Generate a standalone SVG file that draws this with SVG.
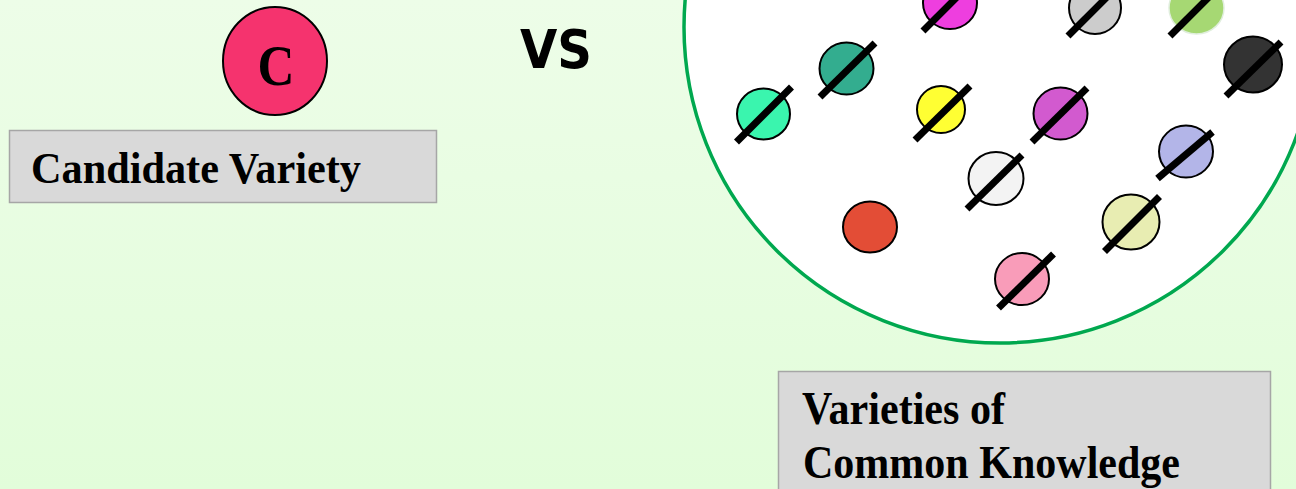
<svg xmlns="http://www.w3.org/2000/svg" width="1296" height="489" viewBox="0 0 1296 489">
<defs>
<linearGradient id="bg" x1="0" y1="0" x2="0" y2="1">
<stop offset="0" stop-color="#EDFDE8"/>
<stop offset="1" stop-color="#E2FDDA"/>
</linearGradient>
</defs>
<style>
.lbl{fill:#D9D9D9;stroke:#A6A6A6;stroke-width:1.5}
.t{font-family:"Liberation Serif","Times New Roman",serif;font-weight:bold;font-size:44px;fill:#000}
.v{stroke:#000;stroke-width:2}
.x{stroke:#000;stroke-width:7;stroke-linecap:butt}
</style>
<rect width="1296" height="489" fill="url(#bg)"/>
<g id="candidate">
<ellipse cx="275" cy="61" rx="52" ry="54" fill="#F5336E" stroke="#000" stroke-width="2"/>
<text x="276" y="85" text-anchor="middle" class="t" style="font-size:56px" textLength="37" lengthAdjust="spacingAndGlyphs">C</text>
</g>
<g id="candidate-label">
<rect class="lbl" x="9.5" y="130.5" width="427" height="72"/>
<text class="t" x="31" y="183" textLength="330" lengthAdjust="spacingAndGlyphs">Candidate Variety</text>
</g>
<g id="vs">
<text x="556" y="68" text-anchor="middle" font-family="'DejaVu Sans',Verdana,sans-serif" font-weight="bold" font-size="53" textLength="72" lengthAdjust="spacingAndGlyphs">VS</text>
</g>
<g id="common-knowledge">
<circle cx="1000" cy="27" r="316" fill="#FFFFFF" stroke="#00A84F" stroke-width="3.5"/>
<g id="v-magenta"><ellipse class="v" cx="950" cy="3" rx="27" ry="26" fill="#EE3EDF"/><line class="x" x1="923" y1="31" x2="978" y2="-24"/></g>
<g id="v-gray"><ellipse class="v" cx="1095" cy="8" rx="26" ry="26" fill="#CCCCCC"/><line class="x" x1="1068" y1="36" x2="1123" y2="-19"/></g>
<g id="v-lightgreen"><ellipse cx="1196.5" cy="8" rx="27.5" ry="26" fill="#A6D873" stroke="#E0EEDD" stroke-width="1.5"/><line class="x" x1="1170" y1="36" x2="1225" y2="-19"/></g>
<g id="v-teal"><ellipse class="v" cx="846.5" cy="68.5" rx="27" ry="26" fill="#33AD8F"/><line class="x" x1="820" y1="97" x2="875" y2="43"/></g>
<g id="v-dark"><ellipse class="v" cx="1253" cy="64.5" rx="29" ry="28" fill="#333333"/><line class="x" x1="1226" y1="96" x2="1281" y2="42"/></g>
<g id="v-aqua"><ellipse class="v" cx="763.5" cy="114" rx="26.5" ry="25.5" fill="#3AF5AE"/><line class="x" x1="736.5" y1="142" x2="791.5" y2="87"/></g>
<g id="v-yellow"><ellipse class="v" cx="941" cy="109.5" rx="24" ry="23.5" fill="#FFFF33"/><line class="x" x1="915" y1="140" x2="970" y2="86"/></g>
<g id="v-purple"><ellipse class="v" cx="1060.5" cy="113.5" rx="27" ry="26" fill="#D25ACF"/><line class="x" x1="1032" y1="142" x2="1087" y2="88"/></g>
<g id="v-lavender"><ellipse class="v" cx="1186" cy="151.5" rx="27" ry="26" fill="#B3B5E8"/><line class="x" x1="1157.5" y1="178.5" x2="1212.5" y2="132"/></g>
<g id="v-white"><ellipse class="v" cx="996" cy="178.5" rx="27.5" ry="26.5" fill="#F3F3F3"/><line class="x" x1="967" y1="209" x2="1022" y2="155"/></g>
<g id="v-red"><ellipse class="v" cx="870" cy="227" rx="27" ry="25.5" fill="#E34D36"/></g>
<g id="v-paleyellow"><ellipse class="v" cx="1131" cy="222" rx="28.5" ry="27.5" fill="#E8EDB2"/><line class="x" x1="1104.5" y1="251.5" x2="1159.5" y2="196.5"/></g>
<g id="v-pink"><ellipse class="v" cx="1022" cy="279" rx="27" ry="26" fill="#F99CB9"/><line class="x" x1="998.5" y1="308" x2="1053.5" y2="254"/></g>
</g>
<g id="ck-label">
<rect class="lbl" x="778.5" y="371.5" width="492" height="130"/>
<text class="t" x="802" y="424" style="font-size:46px" textLength="203" lengthAdjust="spacingAndGlyphs">Varieties of</text>
<text class="t" x="803" y="478" style="font-size:46px" textLength="377" lengthAdjust="spacingAndGlyphs">Common Knowledge</text>
</g>
<g id="connectors"/>
</svg>
